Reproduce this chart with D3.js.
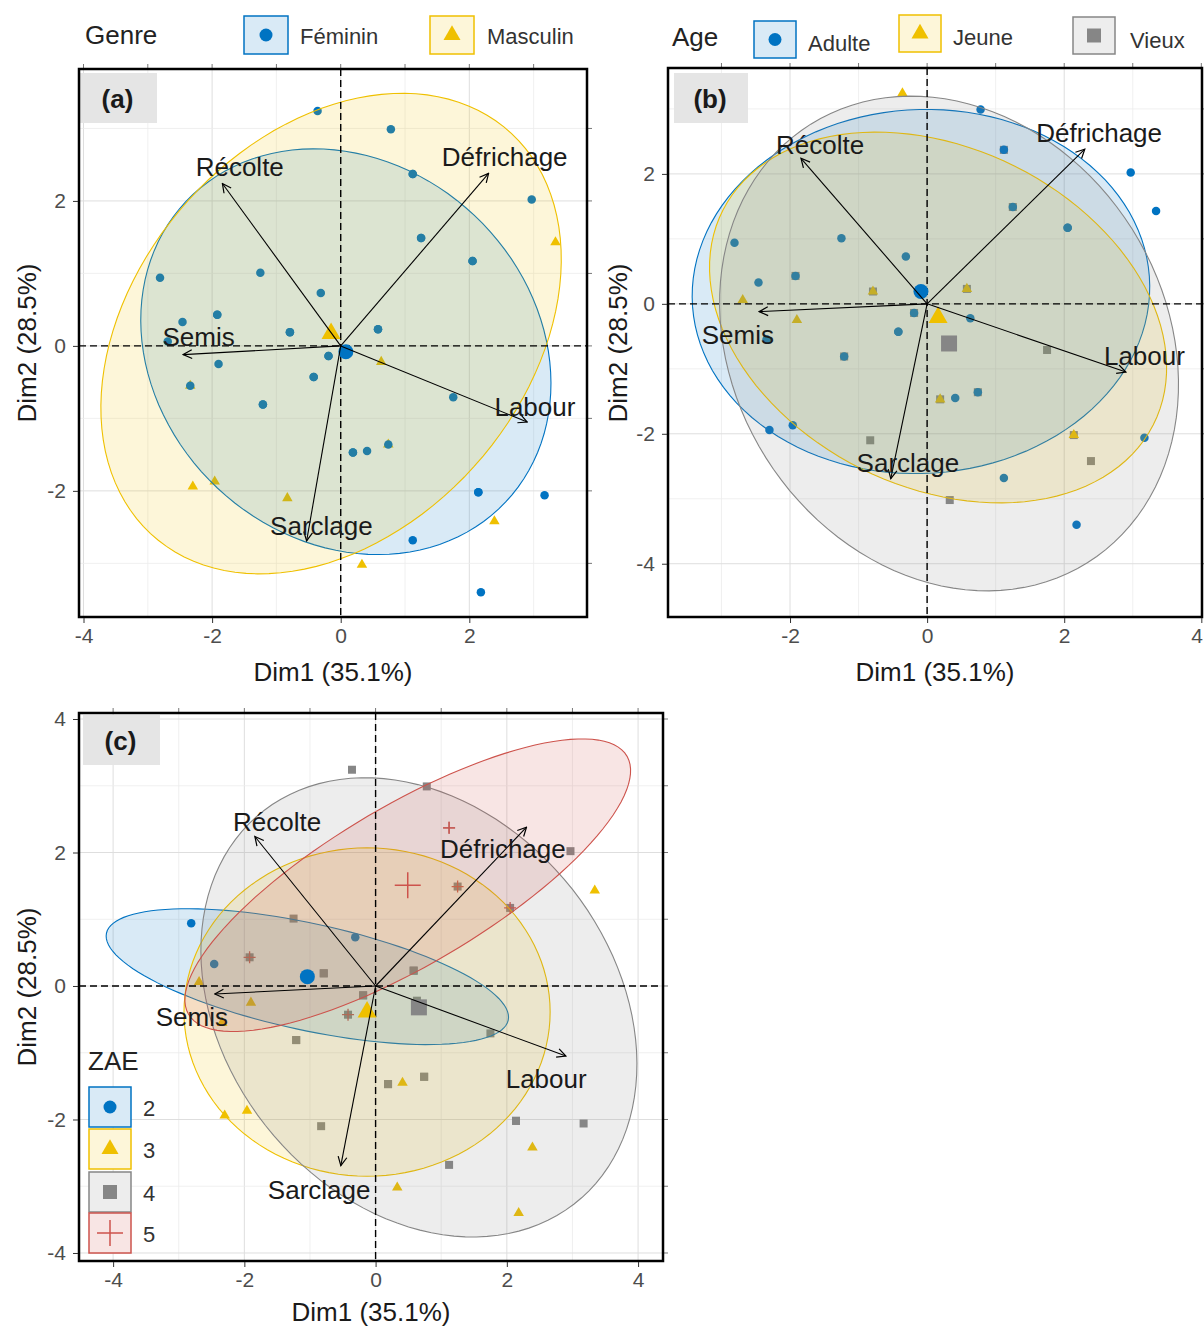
<!DOCTYPE html>
<html>
<head>
<meta charset="utf-8">
<script src="https://cdn.jsdelivr.net/npm/d3@7"></script>
<style>
body { margin: 0; background: #fff; }
text { font-family: "Liberation Sans", Arial, sans-serif; }
</style>
</head>
<body>
<svg id="chart" width="1204" height="1328"></svg>
<script>
'use strict';

// variable arrows (same loadings in every panel)
var varNames = ["Défrichage", "Récolte", "Semis", "Labour", "Sarclage"];
var varX = [2.30, -1.84, -2.45, 2.90, -0.53];
var varY = [2.38, 2.24, -0.12, -1.05, -2.69];

// where each panel put the arrow labels (data units)
var labelXa = [2.55, -1.57, -2.21, 3.02, -0.30];
var labelYa = [2.61, 2.47, 0.12, -0.84, -2.48];
var labelXb = [2.51, -1.56, -2.76, 3.17, -0.28];
var labelYb = [2.63, 2.45, -0.48, -0.80, -2.45];
var labelXc = [1.94, -1.50, -2.80, 2.60, -0.86];
var labelYc = [2.05, 2.46, -0.46, -1.39, -3.06];

// individuals (repeated coordinates = several farmers on the same spot)
var indX = [-0.36, 0.78, 1.12, 1.12, 2.97, 1.25, 1.25, 3.34, 2.05, 2.05, -1.25, -2.81, -0.31, -1.92, -1.92,
            -2.46, -0.79, -0.79, 0.58, 0.58, -2.69, -0.19, -0.19, -1.90, -0.42, -0.42, 0.63, -2.34, -2.34,
            -1.21, -1.21, 1.75, 0.19, 0.19, 0.41, 0.74, 0.74, -2.30, -1.96, -0.83, 2.14, 2.14, 3.17, 2.39,
            1.12, 0.33, 2.18];
var indY = [3.24, 2.99, 2.37, 2.37, 2.02, 1.49, 1.49, 1.43, 1.17, 1.17, 1.01, 0.94, 0.73, 0.43, 0.43,
            0.33, 0.19, 0.19, 0.23, 0.23, 0.06, -0.14, -0.14, -0.25, -0.43, -0.43, -0.22, -0.55, -0.55,
            -0.81, -0.81, -0.71, -1.47, -1.47, -1.45, -1.36, -1.36, -1.94, -1.87, -2.10, -2.02, -2.02, -2.06, -2.42,
            -2.68, -3.02, -3.40];
// 0 Féminin, 1 Masculin
var indGenre = [0, 0, 0, 0, 0, 0, 0, 1, 0, 0, 0, 0, 0, 0, 0,
                0, 0, 0, 0, 0, 0, 0, 0, 0, 0, 0, 1, 1, 0,
                0, 0, 0, 0, 0, 0, 1, 0, 1, 1, 1, 0, 0, 0, 1,
                0, 1, 0];
// 0 Adulte, 1 Jeune, 2 Vieux
var indAge = [1, 0, 0, 2, 0, 0, 2, 0, 0, 0, 0, 0, 0, 0, 2,
              0, 2, 1, 2, 1, 1, 0, 2, 1, 0, 0, 0, 0, 0,
              0, 2, 2, 2, 1, 0, 0, 2, 0, 0, 2, 2, 1, 0, 2,
              0, 2, 0];
// 0 ZAE 2, 1 ZAE 3, 2 ZAE 4, 3 ZAE 5
var indZae = [2, 2, 3, 3, 2, 3, 2, 1, 3, 2, 2, 0, 0, 3, 2,
              0, 2, 2, 2, 2, 1, 2, 2, 1, 3, 2, 2, 1, 1,
              2, 2, 2, 2, 2, 1, 2, 2, 1, 1, 2, 2, 2, 2, 1,
              2, 1, 1];

// group means and concentration ellipses (a, b, angle in degrees)
var genreLevels = ["Féminin", "Masculin"];
var genreMeanX = [0.08, -0.15];
var genreMeanY = [-0.08, 0.17];
var genreEllA = [3.29, 3.96];
var genreEllB = [2.68, 2.85];
var genreEllAngle = [-25, 38];

var ageLevels = ["Adulte", "Jeune", "Vieux"];
var ageMeanX = [-0.09, 0.16, 0.32];
var ageMeanY = [0.19, -0.21, -0.61];
var ageEllA = [3.34, 3.55, 3.94];
var ageEllB = [2.80, 2.58, 3.19];
var ageEllAngle = [4, -30, -64];

var zaeLevels = ["2", "3", "4", "5"];
var zaeMeanX = [-1.04, -0.13, 0.66, 0.49];
var zaeMeanY = [0.14, -0.39, -0.32, 1.51];
var zaeEllA = [3.13, 2.79, 3.78, 3.86];
var zaeEllB = [0.80, 2.46, 2.93, 1.20];
var zaeEllAngle = [-12, 0, -49, 30];

var palette = ["#0073C2", "#EFC000", "#868686", "#CD534C"];
var shapes = ["circle", "triangle", "square", "plus"];

var svg = d3.select("#chart");
svg.append("rect").attr("width", 1204).attr("height", 1328).attr("fill", "#fff");

var defs = svg.append("defs");
defs.append("marker")
    .attr("id", "arrowhead")
    .attr("viewBox", "0 0 10 10")
    .attr("refX", 9).attr("refY", 5)
    .attr("markerWidth", 11).attr("markerHeight", 11)
    .attr("markerUnits", "userSpaceOnUse")
    .attr("orient", "auto")
    .append("path")
    .attr("d", "M1,1L9,5L1,9")
    .attr("fill", "none")
    .attr("stroke", "#000")
    .attr("stroke-width", 1.1);

function shapePath(shape, s) {
    if (shape === "circle") {
        var r = s / 2;
        return "M" + (-r) + ",0A" + r + "," + r + " 0 1,0 " + r + ",0A" + r + "," + r + " 0 1,0 " + (-r) + ",0Z";
    }
    if (shape === "triangle") {
        var h = s * 0.866;
        return "M0," + (-2 * h / 3) + "L" + (s / 2) + "," + (h / 3) + "L" + (-s / 2) + "," + (h / 3) + "Z";
    }
    if (shape === "square") {
        var q = s / 2;
        return "M" + (-q) + "," + (-q) + "H" + q + "V" + q + "H" + (-q) + "Z";
    }
    var p = s / 2;
    return "M" + (-p) + ",0H" + p + "M0," + (-p) + "V" + p;
}

// nominal sizes: small points, group means, legend keys
var pointSize = {circle: 8.5, triangle: 10.5, square: 8, plus: 12};
var meanSize = {circle: 15, triangle: 19, square: 16, plus: 26};
var keySize = {circle: 13, triangle: 17, square: 14, plus: 26};

function drawShape(g, level, s, x, y) {
    var shape = shapes[level], color = palette[level];
    var el = g.append("path")
        .attr("d", shapePath(shape, s))
        .attr("transform", "translate(" + x + "," + y + ")");
    if (shape === "plus") {
        el.attr("fill", "none").attr("stroke", color).attr("stroke-width", s > 16 ? 1.5 : 1.3);
    }
    else {
        el.attr("fill", color);
    }
    return el;
}

function drawPanel(cfg) {
    var x = d3.scaleLinear().domain(cfg.xDom).range([cfg.left, cfg.right]);
    var y = d3.scaleLinear().domain(cfg.yDom).range([cfg.bottom, cfg.top]);
    var g = svg.append("g");

    var clipId = "clip" + cfg.id;
    defs.append("clipPath").attr("id", clipId)
        .append("rect")
        .attr("x", cfg.left).attr("y", cfg.top)
        .attr("width", cfg.right - cfg.left).attr("height", cfg.bottom - cfg.top);

    // grid: majors at even values, minors at odd values
    var xInts = d3.range(Math.ceil(cfg.xDom[0]), Math.floor(cfg.xDom[1]) + 1);
    var yInts = d3.range(Math.ceil(cfg.yDom[0]), Math.floor(cfg.yDom[1]) + 1);
    var grid = g.append("g");
    xInts.forEach(function (v) {
        grid.append("line")
            .attr("x1", x(v)).attr("x2", x(v)).attr("y1", cfg.top).attr("y2", cfg.bottom)
            .attr("stroke", v % 2 === 0 ? "#dedede" : "#ececec")
            .attr("stroke-width", v % 2 === 0 ? 1 : 0.8);
        grid.append("line")
            .attr("x1", x(v)).attr("x2", x(v)).attr("y1", cfg.top - 5).attr("y2", cfg.top)
            .attr("stroke", "#777").attr("stroke-width", 1);
    });
    yInts.forEach(function (v) {
        grid.append("line")
            .attr("y1", y(v)).attr("y2", y(v)).attr("x1", cfg.left).attr("x2", cfg.right)
            .attr("stroke", v % 2 === 0 ? "#dedede" : "#ececec")
            .attr("stroke-width", v % 2 === 0 ? 1 : 0.8);
        grid.append("line")
            .attr("y1", y(v)).attr("y2", y(v)).attr("x1", cfg.right).attr("x2", cfg.right + 5)
            .attr("stroke", "#777").attr("stroke-width", 1);
    });

    var plot = g.append("g").attr("clip-path", "url(#" + clipId + ")");

    // individuals, drawn group by group
    var ptLayer = plot.append("g");
    cfg.drawOrder.forEach(function (lvl) {
        indX.forEach(function (vx, i) {
            if (cfg.groupOf[i] !== lvl) return;
            drawShape(ptLayer, lvl, pointSize[shapes[lvl]], x(vx), y(indY[i]));
        });
    });

    // concentration ellipses over the points
    var ellLine = d3.line()
        .x(function (d) { return x(d[0]); })
        .y(function (d) { return y(d[1]); })
        .curve(d3.curveLinearClosed);
    cfg.levels.forEach(function (name, lvl) {
        var th = cfg.ellAngle[lvl] * Math.PI / 180;
        var a = cfg.ellA[lvl], b = cfg.ellB[lvl];
        var cx = cfg.meanX[lvl], cy = cfg.meanY[lvl];
        var pts = d3.range(0, 120).map(function (k) {
            var t = k / 120 * 2 * Math.PI;
            return [cx + a * Math.cos(th) * Math.cos(t) - b * Math.sin(th) * Math.sin(t),
                    cy + a * Math.sin(th) * Math.cos(t) + b * Math.cos(th) * Math.sin(t)];
        });
        plot.append("path")
            .attr("d", ellLine(pts))
            .attr("fill", palette[lvl])
            .attr("fill-opacity", 0.15)
            .attr("stroke", palette[lvl])
            .attr("stroke-width", 1.1);
    });

    // zero lines
    plot.append("line")
        .attr("x1", x(0)).attr("x2", x(0)).attr("y1", cfg.top).attr("y2", cfg.bottom)
        .attr("stroke", "#000").attr("stroke-width", 1.4).attr("stroke-dasharray", "7,4");
    plot.append("line")
        .attr("y1", y(0)).attr("y2", y(0)).attr("x1", cfg.left).attr("x2", cfg.right)
        .attr("stroke", "#000").attr("stroke-width", 1.4).attr("stroke-dasharray", "7,4");

    // group means
    cfg.levels.forEach(function (name, lvl) {
        drawShape(plot, lvl, meanSize[shapes[lvl]], x(cfg.meanX[lvl]), y(cfg.meanY[lvl]));
    });

    // variable arrows and labels
    varNames.forEach(function (name, i) {
        plot.append("line")
            .attr("x1", x(0)).attr("y1", y(0))
            .attr("x2", x(varX[i])).attr("y2", y(varY[i]))
            .attr("stroke", "#000").attr("stroke-width", 1.1)
            .attr("marker-end", "url(#arrowhead)");
    });
    varNames.forEach(function (name, i) {
        plot.append("text")
            .attr("x", x(cfg.labelX[i])).attr("y", y(cfg.labelY[i]))
            .attr("text-anchor", "middle")
            .attr("dominant-baseline", "central")
            .attr("font-size", 26)
            .attr("fill", "#1a1a1a")
            .text(name);
    });

    // panel tag
    g.append("rect")
        .attr("x", cfg.tagBox[0]).attr("y", cfg.tagBox[1])
        .attr("width", cfg.tagBox[2]).attr("height", cfg.tagBox[3])
        .attr("fill", "#e5e5e5");
    g.append("text")
        .attr("x", cfg.tagBox[0] + cfg.tagBox[2] / 2 - 1)
        .attr("y", cfg.tagBox[1] + cfg.tagBox[3] / 2 + 1)
        .attr("text-anchor", "middle")
        .attr("dominant-baseline", "central")
        .attr("font-size", 26).attr("font-weight", "bold")
        .attr("fill", "#1a1a1a")
        .text(cfg.tag);

    // frame
    g.append("rect")
        .attr("x", cfg.left).attr("y", cfg.top)
        .attr("width", cfg.right - cfg.left).attr("height", cfg.bottom - cfg.top)
        .attr("fill", "none").attr("stroke", "#000").attr("stroke-width", 2.5);

    // axes
    var xAxis = g.append("g")
        .attr("transform", "translate(0," + (cfg.bottom + 1) + ")")
        .call(d3.axisBottom(x).tickValues(cfg.xTicks).tickSize(5).tickPadding(5)
            .tickFormat(function (d) { return String(d); }));
    var yAxis = g.append("g")
        .attr("transform", "translate(" + (cfg.left - 1) + ",0)")
        .call(d3.axisLeft(y).tickValues(cfg.yTicks).tickSize(5).tickPadding(7)
            .tickFormat(function (d) { return String(d); }));
    [xAxis, yAxis].forEach(function (ax) {
        ax.select(".domain").remove();
        ax.selectAll(".tick line").attr("stroke", "#333");
        ax.selectAll(".tick text")
            .attr("font-size", 21)
            .attr("font-family", "Liberation Sans, Arial, sans-serif")
            .attr("fill", "#4d4d4d");
    });
    // a label running past the page edge is pulled back inside it
    xAxis.selectAll(".tick text").each(function () {
        var box = this.getBBox();
        var tx = +d3.select(this.parentNode).attr("transform").match(/translate\(([-\d.]+)/)[1];
        if (tx + box.x + box.width > 1203) {
            d3.select(this).attr("text-anchor", "end").attr("x", 1203 - tx);
        }
    });

    g.append("text")
        .attr("x", cfg.xTitle[0]).attr("y", cfg.xTitle[1])
        .attr("text-anchor", "middle").attr("dominant-baseline", "central")
        .attr("font-size", 26).attr("fill", "#1a1a1a")
        .text("Dim1 (35.1%)");
    g.append("text")
        .attr("transform", "translate(" + cfg.yTitle[0] + "," + cfg.yTitle[1] + ") rotate(-90)")
        .attr("text-anchor", "middle").attr("dominant-baseline", "central")
        .attr("font-size", 26).attr("fill", "#1a1a1a")
        .text("Dim2 (28.5%)");
}

drawPanel({
    id: "a", tag: "(a)",
    left: 79, right: 587, top: 69, bottom: 617,
    xDom: [-4.07, 3.83], yDom: [-3.74, 3.82],
    xTicks: [-4, -2, 0, 2], yTicks: [-2, 0, 2],
    groupOf: indGenre, levels: genreLevels,
    meanX: genreMeanX, meanY: genreMeanY,
    ellA: genreEllA, ellB: genreEllB, ellAngle: genreEllAngle,
    drawOrder: [1, 0],
    labelX: labelXa, labelY: labelYa,
    tagBox: [80, 73, 77, 50],
    xTitle: [333, 672], yTitle: [27, 343]
});

drawPanel({
    id: "b", tag: "(b)",
    left: 668, right: 1202, top: 68, bottom: 617,
    xDom: [-3.78, 4.01], yDom: [-4.82, 3.63],
    xTicks: [-2, 0, 2, 4], yTicks: [-4, -2, 0, 2],
    groupOf: indAge, levels: ageLevels,
    meanX: ageMeanX, meanY: ageMeanY,
    ellA: ageEllA, ellB: ageEllB, ellAngle: ageEllAngle,
    drawOrder: [2, 1, 0],
    labelX: labelXb, labelY: labelYb,
    tagBox: [674, 73, 74, 50],
    xTitle: [935, 672], yTitle: [618, 343]
});

drawPanel({
    id: "c", tag: "(c)",
    left: 79, right: 663, top: 713, bottom: 1261,
    xDom: [-4.52, 4.38], yDom: [-4.12, 4.09],
    xTicks: [-4, -2, 0, 2, 4], yTicks: [-4, -2, 0, 2, 4],
    groupOf: indZae, levels: zaeLevels,
    meanX: zaeMeanX, meanY: zaeMeanY,
    ellA: zaeEllA, ellB: zaeEllB, ellAngle: zaeEllAngle,
    drawOrder: [2, 1, 0, 3],
    labelX: labelXc, labelY: labelYc,
    tagBox: [83, 715, 77, 50],
    xTitle: [371, 1312], yTitle: [27, 987]
});

// legends
function legendKey(g, lvl, kx, ky, kw, kh) {
    g.append("rect").attr("x", kx).attr("y", ky).attr("width", kw).attr("height", kh).attr("fill", "#fff");
    g.append("rect").attr("x", kx).attr("y", ky).attr("width", kw).attr("height", kh)
        .attr("fill", palette[lvl]).attr("fill-opacity", 0.15)
        .attr("stroke", palette[lvl]).attr("stroke-width", 1.5);
    drawShape(g, lvl, keySize[shapes[lvl]], kx + kw / 2, ky + kh / 2);
}

var legA = svg.append("g");
legA.append("text").attr("x", 85).attr("y", 35).attr("dominant-baseline", "central")
    .attr("font-size", 26).attr("fill", "#222").text("Genre");
var legAKeys = [[244, 16], [430, 16]];
var legALabels = [300, 487];
genreLevels.forEach(function (name, i) {
    legendKey(legA, i, legAKeys[i][0], legAKeys[i][1], 44, 38);
    legA.append("text").attr("x", legALabels[i]).attr("y", 36).attr("dominant-baseline", "central")
        .attr("font-size", 22).attr("fill", "#333").text(name);
});

var legB = svg.append("g");
legB.append("text").attr("x", 672).attr("y", 37).attr("dominant-baseline", "central")
    .attr("font-size", 26).attr("fill", "#222").text("Age");
var legBKeys = [[754, 21], [899, 15], [1073, 17]];
var legBLabels = [[808, 43], [953, 37], [1130, 40]];
ageLevels.forEach(function (name, i) {
    legendKey(legB, i, legBKeys[i][0], legBKeys[i][1], 42, 37);
    legB.append("text").attr("x", legBLabels[i][0]).attr("y", legBLabels[i][1]).attr("dominant-baseline", "central")
        .attr("font-size", 22).attr("fill", "#333").text(name);
});

var legC = svg.append("g");
legC.append("text").attr("x", 88).attr("y", 1061).attr("dominant-baseline", "central")
    .attr("font-size", 26).attr("fill", "#222").text("ZAE");
var legCRows = [1087, 1129, 1172, 1213];
zaeLevels.forEach(function (name, i) {
    legendKey(legC, i, 89, legCRows[i], 42, 40);
    legC.append("text").attr("x", 143).attr("y", legCRows[i] + 21).attr("dominant-baseline", "central")
        .attr("font-size", 22).attr("fill", "#333").text(name);
});
</script>
</body>
</html>
